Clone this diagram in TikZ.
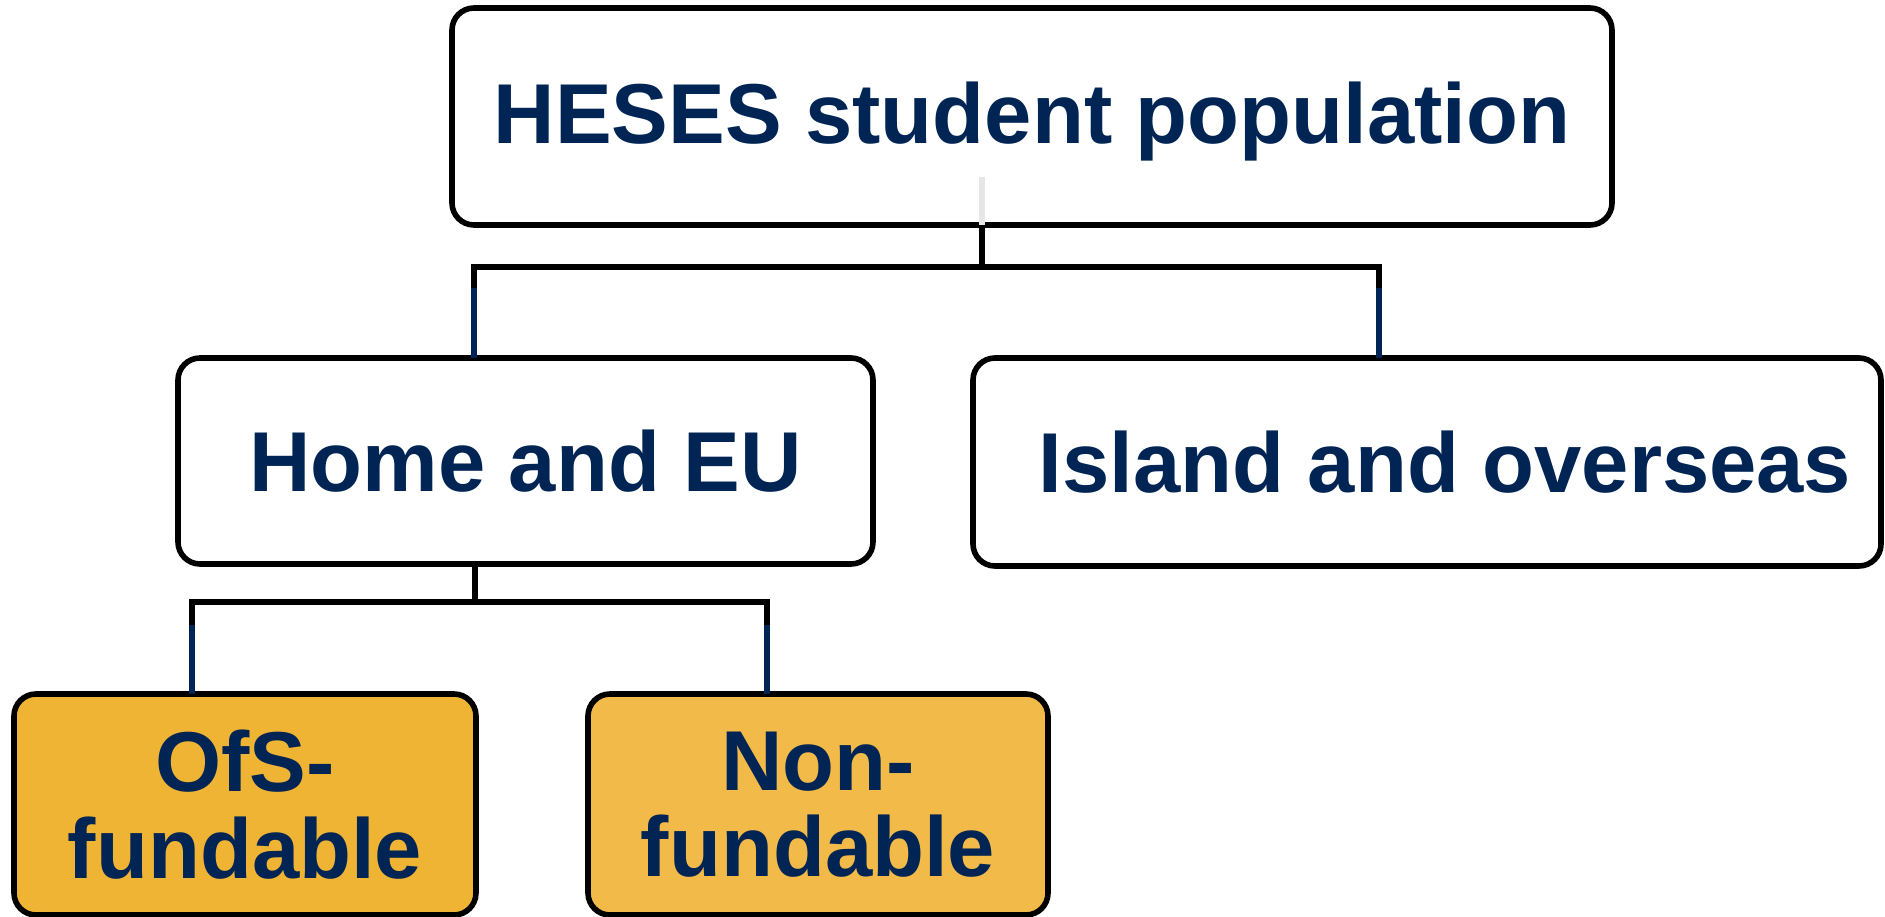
\documentclass[tikz,border=0pt]{standalone}
\usepackage{fontspec}
\setmainfont{Liberation Sans}
\definecolor{navy}{RGB}{0,36,84}
\definecolor{ofsgold}{RGB}{240,180,52}
\definecolor{nongold}{RGB}{242,186,72}
\definecolor{faint}{RGB}{230,230,230}

\begin{document}
\begin{tikzpicture}[x=0.5pt, y=-0.5pt, font=\bfseries\fontsize{42.5}{43.3}\selectfont, every node/.style={draw, line width=2.8pt, rounded corners=11pt, align=center, text=navy, fill=white, inner sep=0pt, outer sep=0pt}, link/.style={line width=2.6pt, line join=miter}, navylink/.style={line width=2.6pt, draw=navy}, line cap=butt]
	\useasboundingbox (0, 0) rectangle (1885, 916);

	% Tier 1
	\node[minimum width=580pt, minimum height=108.5pt] (top) at (1032, 116.5) {\raisebox{-2.5pt}[\height][\depth]{HESES student population}};

	% Tier 2
	\node[minimum width=347.5pt, minimum height=103pt] (home) at (525.5, 461) {Home and EU};
	\node[minimum width=454pt, minimum height=104pt] (island) at (1427, 462) {\hspace*{18pt}Island and overseas};

	% Tier 3
	\node[fill=ofsgold, minimum width=231pt, minimum height=110.5pt] (ofs) at (245, 804.5) {OfS-\\fundable};
	\node[fill=nongold, minimum width=230pt, minimum height=110.5pt] (non) at (818, 804.5) {Non-\\fundable};

	% Connectors 1 -> 2
	\coordinate (split1) at (982, 267);
	\draw[faint, line width=2.6pt] ([xshift=-25pt]top.south) -- ++(0, -48);
	\draw[link] ([xshift=-25pt]top.south) -- (split1);
	\draw[link] ([xshift=-25.75pt]home.north) |- (split1) -| ([xshift=-24pt]island.north);
	\draw[navylink] ([xshift=-25.75pt]home.north) -- ++(0, -70);
	\draw[navylink] ([xshift=-24pt]island.north) -- ++(0, -70);

	% Connectors 2 -> 3
	\coordinate (split2) at (475, 602);
	\draw[link] ([xshift=-25.25pt]home.south) -- (split2);
	\draw[link] ([xshift=-26.5pt]ofs.north) |- (split2) -| ([xshift=-25.5pt]non.north);
	\draw[navylink] ([xshift=-26.5pt]ofs.north) -- ++(0, -69);
	\draw[navylink] ([xshift=-25.5pt]non.north) -- ++(0, -69);
\end{tikzpicture}
\end{document}
